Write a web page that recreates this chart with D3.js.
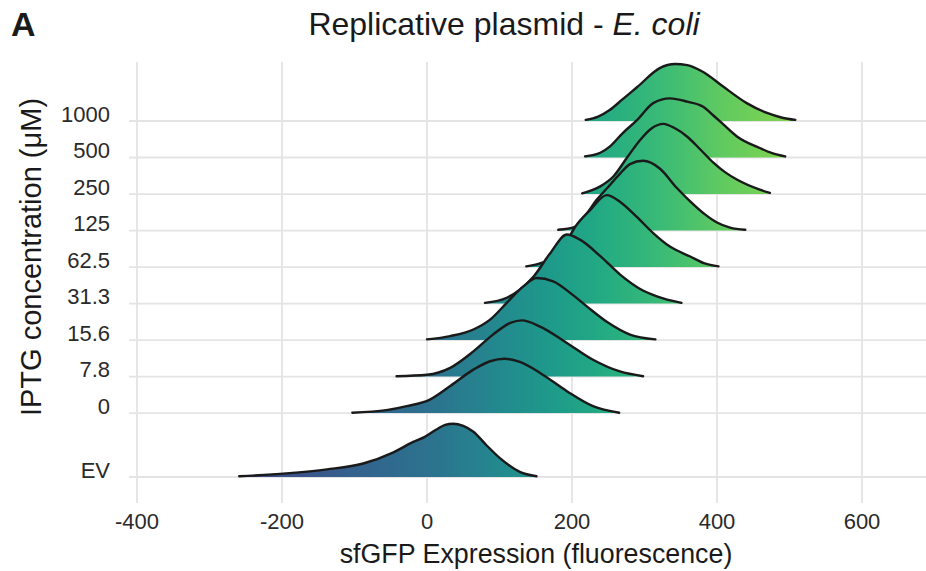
<!DOCTYPE html>
<html><head><meta charset="utf-8">
<script src="https://cdn.jsdelivr.net/npm/d3@7"></script>
<style>
body{margin:0;background:#fff}
svg{display:block}
text{font-family:"Liberation Sans",Arial,Helvetica,sans-serif;fill:#1a1a1a}
</style>
</head><body>
<svg id="chart" width="926" height="571"></svg>
<script>
// ---- data ----
const categories = ["EV", "0", "7.8", "15.6", "31.3", "62.5", "125", "250", "500", "1000"];
// density ridges: [sfGFP value, relative height (rows)]
const ridgeEV = [[-259,0.02],[-194,0.10],[-138,0.21],[-88,0.37],[-47,0.67],[-19,0.96],[-3,1.10],[13,1.30],[25,1.43],[36,1.46],[50,1.40],[64,1.24],[82,0.87],[101,0.51],[128,0.14],[151,0.02]];
const ridge0 = [[-103,0.01],[-56,0.08],[-28,0.19],[4,0.37],[32,0.74],[64,1.19],[87,1.42],[107,1.49],[128,1.40],[156,1.10],[193,0.60],[229,0.19],[265,0.01]];
const ridge7_8 = [[-42,0.01],[0,0.05],[32,0.24],[64,0.69],[91,1.15],[115,1.47],[131,1.54],[156,1.37],[193,0.92],[229,0.46],[266,0.14],[298,0.01]];
const ridge15_6 = [[0,0.02],[32,0.11],[64,0.29],[87,0.56],[110,1.02],[133,1.47],[151,1.70],[174,1.61],[197,1.30],[220,0.93],[248,0.50],[280,0.15],[315,0.02]];
const ridge31_3 = [[80,0.02],[110,0.16],[128,0.38],[147,0.74],[170,1.38],[193,1.89],[211,1.75],[239,1.30],[266,0.80],[294,0.40],[317,0.20],[351,0.02]];
const ridge62_5 = [[137,0.02],[156,0.10],[177,0.29],[190,0.60],[204,1.09],[225,1.56],[248,1.97],[266,1.79],[289,1.38],[312,0.93],[335,0.56],[363,0.29],[383,0.10],[402,0.02]];
const ridge125 = [[181,0.02],[204,0.10],[220,0.45],[234,0.84],[248,1.15],[266,1.55],[280,1.82],[298,1.91],[321,1.70],[344,1.18],[363,0.80],[383,0.45],[400,0.22],[418,0.08],[439,0.02]];
const ridge250 = [[214,0.02],[239,0.21],[257,0.48],[276,1.00],[294,1.48],[310,1.80],[326,1.92],[342,1.80],[359,1.57],[377,1.22],[395,0.86],[411,0.60],[428,0.39],[459,0.12],[473,0.03]];
const ridge500 = [[218,0.03],[239,0.13],[252,0.30],[270,0.67],[290,1.03],[312,1.49],[335,1.62],[359,1.53],[381,1.39],[395,1.15],[408,0.92],[428,0.57],[459,0.26],[476,0.12],[494,0.03]];
const ridge1000 = [[219,0.03],[236,0.12],[252,0.30],[270,0.60],[290,0.93],[321,1.45],[342,1.56],[359,1.53],[381,1.34],[408,0.95],[441,0.49],[469,0.22],[490,0.09],[508,0.03]];
const ridges = [ridgeEV, ridge0, ridge7_8, ridge15_6, ridge31_3, ridge62_5, ridge125, ridge250, ridge500, ridge1000];
const xTicks = [-400, -200, 0, 200, 400, 600];
const xTickLabels = ["-400", "-200", "0", "200", "400", "600"];
// fill gradient: value -> position on viridis
const fillDomain = [-260, 0, 200, 400, 510];
const fillViridis = [0.21, 0.37, 0.57, 0.75, 0.82];

// ---- layout ----
const svg = d3.select("#chart");
const x = d3.scaleLinear().domain([-400, 600]).range([137, 862]);
const evGap = 1.75;
const levels = categories.map((c, i) => i === 0 ? 0 : evGap + (i - 1));
const y = d3.scaleLinear().domain([0, evGap + 8]).range([477, 121]);
const panelLeft = 129, panelRight = 926, panelTop = 62, panelBottom = 503;

// gradient
const defs = svg.append("defs");
const grad = defs.append("linearGradient").attr("id", "vir")
  .attr("gradientUnits", "userSpaceOnUse")
  .attr("x1", x(fillDomain[0])).attr("x2", x(fillDomain[fillDomain.length - 1]))
  .attr("y1", 0).attr("y2", 0);
const tMap = d3.scaleLinear().domain(fillDomain).range(fillViridis);
const nStops = 30;
for (let i = 0; i <= nStops; i++) {
  const v = fillDomain[0] + (fillDomain[fillDomain.length - 1] - fillDomain[0]) * i / nStops;
  grad.append("stop").attr("offset", i / nStops).attr("stop-color", d3.interpolateViridis(tMap(v)));
}

// grid
const grid = svg.append("g");
grid.selectAll("line.v").data(xTicks).join("line")
  .attr("x1", d => x(d)).attr("x2", d => x(d))
  .attr("y1", panelTop).attr("y2", panelBottom)
  .attr("stroke", "#e4e4e4").attr("stroke-width", 1.8);
grid.selectAll("line.h").data(levels).join("line")
  .attr("x1", panelLeft).attr("x2", panelRight)
  .attr("y1", d => y(d)).attr("y2", d => y(d))
  .attr("stroke", "#e4e4e4").attr("stroke-width", 1.8);

// ridges, top row first so lower rows overlap
const order = d3.range(categories.length).reverse();
const g = svg.append("g");
const curve = d3.curveMonotoneX;
order.forEach(i => {
  const lv = levels[i];
  const pts = ridges[i];
  const area = d3.area().curve(curve)
    .x(d => x(d[0])).y0(y(lv)).y1(d => y(lv + d[1]));
  const line = d3.line().curve(curve)
    .x(d => x(d[0])).y(d => y(lv + d[1]));
  g.append("path").attr("d", area(pts)).attr("fill", "url(#vir)");
  g.append("path").attr("d", line(pts)).attr("fill", "none")
    .attr("stroke", "#1a1a1a").attr("stroke-width", 2.4).attr("stroke-linejoin", "round").attr("stroke-linecap", "round");
});

// y tick labels (sit on top of their baseline)
svg.append("g").selectAll("text").data(categories).join("text")
  .attr("x", 110).attr("y", (d, i) => y(levels[i]) + 0.5)
  .attr("text-anchor", "end").attr("font-size", 22).style("fill", "#2a2a2a")
  .text(d => d);

// x tick labels
svg.append("g").selectAll("text").data(xTicks).join("text")
  .attr("x", d => x(d)).attr("y", 529)
  .attr("text-anchor", "middle").attr("font-size", 22).style("fill", "#2a2a2a")
  .text((d, i) => xTickLabels[i]);

// axis titles
svg.append("text").attr("x", 536).attr("y", 563).attr("text-anchor", "middle")
  .attr("font-size", 26.8).text("sfGFP Expression (fluorescence)");
svg.append("text").attr("transform", "translate(41,257) rotate(-90)").attr("text-anchor", "middle")
  .attr("font-size", 29).text("IPTG concentration (μM)");

// title
const title = svg.append("text").attr("x", 504).attr("y", 35).attr("text-anchor", "middle").attr("font-size", 32);
title.append("tspan").text("Replicative plasmid - ");
title.append("tspan").attr("font-style", "italic").text("E. coli");

// panel tag
svg.append("text").attr("x", 11).attr("y", 36).attr("font-size", 34).attr("font-weight", "bold").text("A");
</script>
</body></html>
